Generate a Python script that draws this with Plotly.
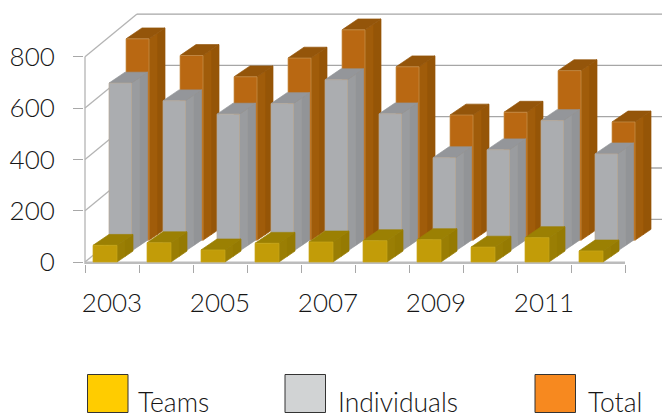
import plotly.graph_objects as go

years = [2003, 2004, 2005, 2006, 2007, 2008, 2009, 2010, 2011, 2012]
teams = [65, 75, 47, 73, 78, 83, 87, 58, 95, 43]
individuals = [655, 586, 534, 575, 668, 535, 364, 395, 509, 379]
total = [785, 720, 637, 710, 820, 676, 488, 499, 661, 461]
y_ticks = [0, 200, 400, 600, 800]
x_label_years = [2003, 2005, 2007, 2009, 2011]
legend_names = ["Teams", "Individuals", "Total"]

W, H = 662, 417
PX_X = 54.0       # pixels per year
PX_Y = 0.2565     # pixels per unit
ORIGIN_X, ORIGIN_Y = 85, 262
L, T, B, R = 84, 0, H - 264, 0

x_low = years[0] - 0.5 - (ORIGIN_X - L) / PX_X
x_high = years[0] - 0.5 + (W - ORIGIN_X) / PX_X
y_low = -(264 - ORIGIN_Y) / PX_Y
y_high = ORIGIN_Y / PX_Y

# oblique projection, expressed in axis units
DEPTH_X = 16 / PX_X
DEPTH_Y = 10.9 / PX_Y
WALL_X = 52 / PX_X
WALL_Y = 42.7 / PX_Y
FONT = dict(family="Lato", weight=300, color="#161616")


def poly_trace(xs, ys, fill, line, name, width=0.7):
    return go.Scatter(x=xs, y=ys, mode="lines", fill="toself", fillcolor=fill,
                      line=dict(color=line, width=width), name=name,
                      hoverinfo="skip", showlegend=False)


def line_trace(xs, ys, color, width):
    return go.Scatter(x=xs, y=ys, mode="lines", hoverinfo="skip", showlegend=False,
                      line=dict(color=color, width=width))


def faces(values, layer, pad_px, width_px):
    """Front, top and two side strips for one series at a given depth layer."""
    fx, fy, tx, ty, s1x, s1y, s2x, s2y = [], [], [], [], [], [], [], []
    oy = layer * DEPTH_Y
    for year, v in zip(years, values):
        x0 = year - 0.5 + pad_px / PX_X
        x1 = x0 + width_px / PX_X
        y0, y1 = oy, oy + v
        fx += [x0, x1, x1, x0, x0, None]
        fy += [y0, y0, y1, y1, y0, None]
        tx += [x0, x1, x1 + DEPTH_X, x0 + DEPTH_X, x0, None]
        ty += [y1, y1, y1 + DEPTH_Y, y1 + DEPTH_Y, y1, None]
        mx, my = DEPTH_X / 2, DEPTH_Y / 2
        s1x += [x1, x1 + mx, x1 + mx, x1, x1, None]
        s1y += [y0, y0 + my, y1 + my, y1, y0, None]
        s2x += [x1 + mx, x1 + 2 * mx, x1 + 2 * mx, x1 + mx, x1 + mx, None]
        s2y += [y0 + my, y0 + 2 * my, y1 + 2 * my, y1 + my, y0 + my, None]
    return fx, fy, tx, ty, s1x, s1y, s2x, s2y


fig = go.Figure()

# walls: left-side diagonals and back gridlines
x_start = years[0] - 0.5
x_end = years[-1] + 0.5
wall_x, wall_y, back_x, back_y = [], [], [], []
for t in y_ticks:
    wall_x += [x_start, x_start + WALL_X, None]
    wall_y += [t, t + WALL_Y, None]
    back_x += [x_start + WALL_X, x_end + WALL_X, None]
    back_y += [t + WALL_Y, t + WALL_Y, None]
fig.add_trace(line_trace(wall_x, wall_y, "#b4b4b4", 1.3))
fig.add_trace(line_trace(back_x, back_y, "#a6a6a6", 1.3))
fig.add_trace(line_trace([x_start, x_start], [y_low, y_ticks[-1]], "#b4b4b4", 1.3))
fig.add_trace(line_trace([x_start, x_end], [-3, -3], "#bcbcbc", 2.5))

styles = [
    (total, 2, "Total", 41, 23, "#b96812", "#a05c0a", "#955507", "#94550a", "#c9924f"),
    (individuals, 1, "Individuals", 24, 22.5, "#abadb0", "#9a9c9f", "#929497", "#94969a", "#b8a998"),
    (teams, 0, "Teams", 8, 24, "#c29c08", "#9a7e04", "#957a02", "#9b8003", "#c9a81a"),
]
for values, layer, name, pad, bw, front, side1, side2, top, edge in styles:
    fx, fy, tx, ty, s1x, s1y, s2x, s2y = faces(values, layer, pad, bw)
    fig.add_trace(poly_trace(s2x, s2y, side2, side2, name))
    fig.add_trace(poly_trace(s1x, s1y, side1, side1, name))
    fig.add_trace(poly_trace(tx, ty, top, top, name))
    fig.add_trace(poly_trace(fx, fy, front, edge, name))

fig.update_layout(
    width=W, height=H, margin=dict(l=L, r=R, t=T, b=B, autoexpand=False, pad=0),
    paper_bgcolor="white", plot_bgcolor="rgba(0,0,0,0)", showlegend=False,
    xaxis=dict(range=[x_low, x_high], tickmode="array",
               tickvals=x_label_years, ticktext=[str(y) for y in x_label_years],
               ticks="", showgrid=False, zeroline=False, showline=False,
               ticklabelstandoff=21,
               tickfont=dict(size=26, **FONT),
               minor=dict(tickmode="array", tickvals=[y - 0.5 for y in years] + [x_end],
                          ticks="outside", ticklen=8, tickwidth=1.3, tickcolor="#a8a8a8", showgrid=False)),
    yaxis=dict(range=[y_low, y_high], tickmode="array", tickvals=y_ticks, ticks="outside", ticklen=10,
               tickwidth=1.3, tickcolor="#a8a8a8", showgrid=False, zeroline=False, showline=False,
               ticklabelstandoff=13,
               tickfont=dict(size=26, **FONT)),
)

legend_colors = ["#ffcc00", "#d1d3d4", "#f7891f"]
legend_box_px = [87.5, 285, 535]
legend_text_px = [136, 336, 586]
plot_w, plot_h = W - L - R, H - T - B
to_px_x = lambda p: (p - L) / plot_w
to_px_y = lambda p: (H - B - p) / plot_h
for name, color, bx, tx in zip(legend_names, legend_colors, legend_box_px, legend_text_px):
    fig.add_shape(type="rect", xref="paper", yref="paper",
                  x0=to_px_x(bx), x1=to_px_x(bx + 40.5), y0=to_px_y(412.5), y1=to_px_y(374.5),
                  fillcolor=color, line=dict(color="#333333", width=1))
    fig.add_annotation(text=name, xref="paper", yref="paper", x=to_px_x(tx), y=to_px_y(402),
                       xanchor="left", yanchor="middle", showarrow=False,
                       font=dict(size=26.5, **FONT))

fig.write_html("out.html", config={"displayModeBar": False},
               post_script="document.body.style.margin='0';")
